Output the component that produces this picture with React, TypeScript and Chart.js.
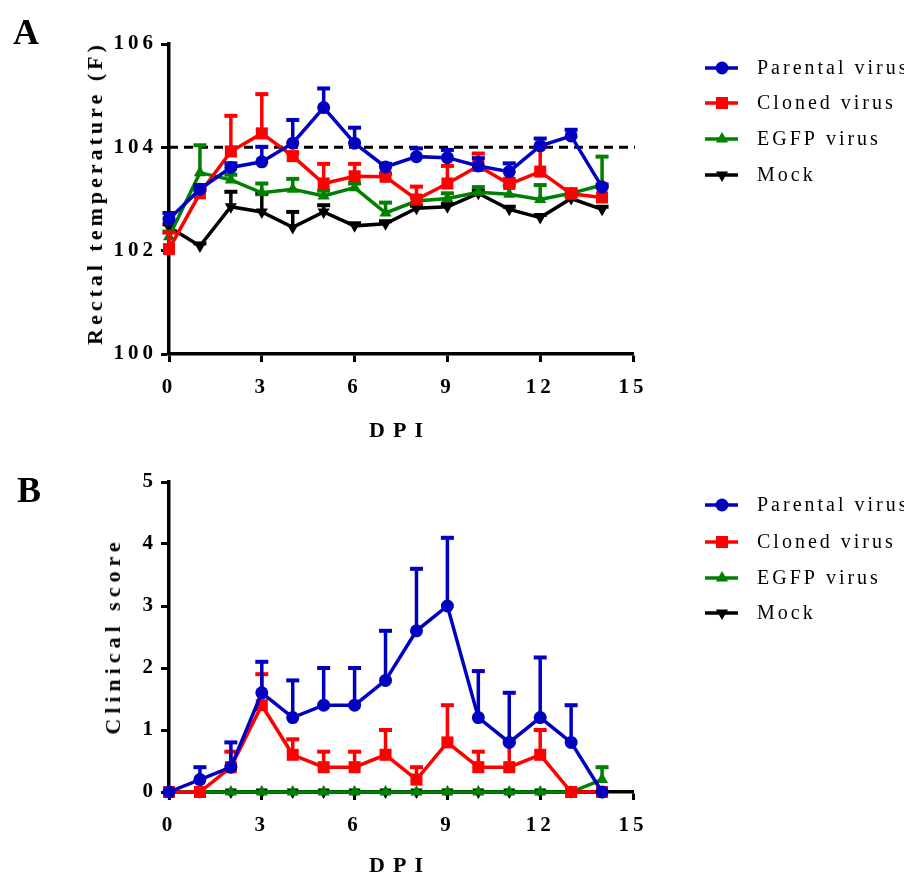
import React, { useEffect, useRef } from "react";
import { Chart, registerables } from "chart.js";

Chart.register(...registerables);

// ---------- data ----------
const days = [0, 1, 2, 3, 4, 5, 6, 7, 8, 9, 10, 11, 12, 13, 14];
const seriesNames = ["Parental virus", "Cloned virus", "EGFP virus", "Mock"];
const seriesColors = ["#0000c0", "#ff0000", "#008000", "#000000"];

const tempParental = [102.61, 103.19, 103.61, 103.72, 104.08, 104.77, 104.08, 103.62, 103.82, 103.8, 103.64, 103.53, 104.03, 104.22, 103.23];
const tempParentalErr = [0.12, 0.08, 0.08, 0.29, 0.45, 0.37, 0.3, 0.06, 0.16, 0.15, 0.15, 0.16, 0.14, 0.12, 0.05];
const tempCloned = [102.03, 103.11, 103.92, 104.27, 103.83, 103.3, 103.44, 103.43, 102.99, 103.3, 103.64, 103.29, 103.53, 103.1, 103.03];
const tempClonedErr = [0.32, 0.06, 0.69, 0.76, 0.06, 0.38, 0.24, 0.06, 0.25, 0.34, 0.24, 0.1, 0.5, 0.05, 0.2];
const tempEgfp = [102.27, 103.51, 103.37, 103.12, 103.19, 103.06, 103.22, 102.73, 102.96, 103.01, 103.13, 103.09, 102.99, 103.11, 103.27];
const tempEgfpErr = [0.1, 0.53, 0.1, 0.18, 0.2, 0.1, 0.08, 0.2, 0.08, 0.1, 0.1, 0.17, 0.28, 0.08, 0.55];
const tempMock = [102.46, 102.09, 102.85, 102.75, 102.45, 102.75, 102.48, 102.52, 102.82, 102.85, 103.11, 102.8, 102.64, 103.01, 102.8];
const tempMockErr = [0.05, 0.05, 0.29, 0.35, 0.3, 0.13, 0.05, 0.05, 0.05, 0.05, 0.05, 0.05, 0.05, 0.05, 0.05];
const tempThreshold = 104;

const scoreParental = [0, 0.2, 0.4, 1.6, 1.2, 1.4, 1.4, 1.8, 2.6, 3.0, 1.2, 0.8, 1.2, 0.8, 0];
const scoreParentalErr = [0, 0.2, 0.4, 0.5, 0.6, 0.6, 0.6, 0.8, 1.0, 1.1, 0.75, 0.8, 0.97, 0.6, 0];
const scoreCloned = [0, 0, 0.4, 1.4, 0.6, 0.4, 0.4, 0.6, 0.2, 0.8, 0.4, 0.4, 0.6, 0, 0];
const scoreClonedErr = [0, 0, 0.25, 0.5, 0.25, 0.25, 0.25, 0.4, 0.2, 0.6, 0.25, 0.4, 0.4, 0, 0];
const scoreEgfp = [0, 0, 0, 0, 0, 0, 0, 0, 0, 0, 0, 0, 0, 0, 0.2];
const scoreEgfpErr = [0, 0, 0, 0, 0, 0, 0, 0, 0, 0, 0, 0, 0, 0, 0.2];
const scoreMock = [0, 0, 0, 0, 0, 0, 0, 0, 0, 0, 0, 0, 0, 0, 0];
const scoreMockErr = [0, 0, 0, 0, 0, 0, 0, 0, 0, 0, 0, 0, 0, 0, 0];

const xTicksStep = 3;

// ---------- styling ----------
const SERIF = '"Liberation Serif", "Times New Roman", serif';
const W = 903;
const H_A = 440;
const H_B = 426;
const markerStyles = ["circle", "rect", "triangle", "triangle"];
const markerRadii = [6.5, 8.5, 7, 7];
const markerRot = [0, 0, 0, 180];

function drawMarker(ctx: CanvasRenderingContext2D, i: number, x: number, y: number) {
  const r = markerRadii[i];
  ctx.fillStyle = seriesColors[i];
  ctx.beginPath();
  if (markerStyles[i] === "circle") {
    ctx.arc(x, y, r, 0, Math.PI * 2);
  } else if (markerStyles[i] === "rect") {
    const s = r * Math.SQRT1_2;
    ctx.rect(x - s, y - s, 2 * s, 2 * s);
  } else {
    let rad = (markerRot[i] * Math.PI) / 180;
    ctx.moveTo(x + Math.sin(rad) * r, y - Math.cos(rad) * r);
    rad += (2 * Math.PI) / 3;
    ctx.lineTo(x + Math.sin(rad) * r, y - Math.cos(rad) * r);
    rad += (2 * Math.PI) / 3;
    ctx.lineTo(x + Math.sin(rad) * r, y - Math.cos(rad) * r);
    ctx.closePath();
  }
  ctx.fill();
}

const letterSpacingPlugin = {
  id: "letterSpacing",
  beforeDraw(chart: any) {
    chart.ctx.letterSpacing = "4px";
  },
};

const errorBarPlugin = {
  id: "errorBars",
  afterDatasetDraw(chart: any, args: any) {
    const ds = chart.data.datasets[args.index];
    const errs: number[] = ds.errs || [];
    const yScale = chart.scales.y;
    const ctx = chart.ctx;
    ctx.save();
    ctx.strokeStyle = ds.borderColor;
    args.meta.data.forEach((pt: any, j: number) => {
      const e = errs[j];
      if (!e) return;
      const v = ds.data[j].y;
      const yTop = yScale.getPixelForValue(v + e);
      ctx.lineWidth = 3.5;
      ctx.beginPath();
      ctx.moveTo(pt.x, pt.y);
      ctx.lineTo(pt.x, yTop);
      ctx.stroke();
      ctx.lineWidth = 4;
      ctx.beginPath();
      ctx.moveTo(pt.x - 6.5, yTop);
      ctx.lineTo(pt.x + 6.5, yTop);
      ctx.stroke();
    });
    ctx.restore();
  },
};

function makeLegendPlugin(rowsY: number[]) {
  return {
    id: "customLegend",
    afterDraw(chart: any) {
      const ctx = chart.ctx as any;
      ctx.save();
      seriesNames.forEach((name, i) => {
        const y = rowsY[i];
        ctx.strokeStyle = seriesColors[i];
        ctx.lineWidth = 3.5;
        ctx.beginPath();
        ctx.moveTo(697, y);
        ctx.lineTo(730, y);
        ctx.stroke();
        drawMarker(ctx, i, 714, y);
        ctx.letterSpacing = "3px";
        ctx.font = `20px ${SERIF}`;
        ctx.fillStyle = "#000";
        ctx.textAlign = "left";
        ctx.textBaseline = "middle";
        ctx.fillText(name, 749, y + 1);
      });
      ctx.restore();
    },
  };
}

const thresholdPlugin = {
  id: "threshold",
  beforeDatasetsDraw(chart: any) {
    const ctx = chart.ctx;
    const y = chart.scales.y.getPixelForValue(tempThreshold);
    const { left, right } = chart.chartArea;
    ctx.save();
    ctx.strokeStyle = "#000";
    ctx.lineWidth = 3;
    ctx.setLineDash([9, 6]);
    ctx.beginPath();
    ctx.moveTo(left, y);
    ctx.lineTo(right + 2, y);
    ctx.stroke();
    ctx.restore();
  },
};

function buildConfig(
  values: number[][],
  errs: number[][],
  yMin: number,
  yMax: number,
  yStep: number,
  padTop: number,
  padBottom: number,
  extraPlugins: any[]
): any {
  const tickFont = { family: SERIF, size: 21, weight: "bold" };
  return {
    type: "line",
    data: {
      datasets: values.map((vals, i) => ({
        label: seriesNames[i],
        data: days.map((d, j) => ({ x: d, y: vals[j] })),
        errs: errs[i],
        borderColor: seriesColors[i],
        backgroundColor: seriesColors[i],
        borderWidth: 3.5,
        pointStyle: markerStyles[i],
        pointRadius: markerRadii[i],
        pointRotation: markerRot[i],
        pointBorderWidth: 0,
        pointBackgroundColor: seriesColors[i],
        tension: 0,
        clip: false,
      })),
    },
    options: {
      animation: false,
      responsive: false,
      devicePixelRatio: 1,
      layout: { padding: { left: 0, top: padTop, right: W - 625, bottom: padBottom } },
      plugins: { legend: { display: false }, tooltip: { enabled: false } },
      scales: {
        x: {
          type: "linear",
          min: 0,
          max: 15,
          afterFit: (s: any) => {
            s.height = 50;
          },
          ticks: { stepSize: xTicksStep, padding: 13, color: "#000", font: tickFont, maxRotation: 0, autoSkip: false },
          grid: { drawOnChartArea: false, drawTicks: true, tickLength: 8, tickWidth: 3, tickColor: "#000" },
          border: { display: true, color: "#000", width: 3.5 },
        },
        y: {
          type: "linear",
          min: yMin,
          max: yMax,
          afterFit: (s: any) => {
            s.width = 161;
          },
          ticks: { stepSize: yStep, padding: 4, color: "#000", font: tickFont },
          grid: { drawOnChartArea: false, drawTicks: true, tickLength: 8, tickWidth: 3, tickColor: "#000" },
          border: { display: true, color: "#000", width: 3.5 },
        },
      },
    },
    plugins: [letterSpacingPlugin, ...extraPlugins, errorBarPlugin],
  };
}

const textBase: React.CSSProperties = {
  position: "absolute",
  fontFamily: SERIF,
  fontWeight: "bold",
  color: "#000",
  whiteSpace: "nowrap",
  lineHeight: 1,
};

export default function App() {
  const refA = useRef<HTMLCanvasElement>(null);
  const refB = useRef<HTMLCanvasElement>(null);

  useEffect(() => {
    document.documentElement.style.overflow = "hidden";
    const chartA = new Chart(
      refA.current as HTMLCanvasElement,
      buildConfig(
        [tempParental, tempCloned, tempEgfp, tempMock],
        [tempParentalErr, tempClonedErr, tempEgfpErr, tempMockErr],
        100,
        106,
        2,
        36,
        44,
        [thresholdPlugin, makeLegendPlugin([60, 95, 131, 167])]
      )
    );
    const chartB = new Chart(
      refB.current as HTMLCanvasElement,
      buildConfig(
        [scoreParental, scoreCloned, scoreEgfp, scoreMock],
        [scoreParentalErr, scoreClonedErr, scoreEgfpErr, scoreMockErr],
        0,
        5,
        1,
        34,
        H_B - 344 - 50,
        [makeLegendPlugin([57, 94, 130, 165])]
      )
    );
    return () => {
      chartA.destroy();
      chartB.destroy();
    };
  }, []);

  return (
    <div style={{ position: "relative", width: W, height: 440 + H_B }}>
      <canvas ref={refA} width={W} height={H_A} style={{ position: "absolute", left: 0, top: 0, width: W, height: H_A }} />
      <canvas ref={refB} width={W} height={H_B} style={{ position: "absolute", left: 0, top: 440, width: W, height: H_B }} />
      <div style={{ ...textBase, left: 5, top: 6, fontSize: 36 }}>A</div>
      <div style={{ ...textBase, left: 9, top: 464, fontSize: 36 }}>B</div>
      <div
        style={{
          ...textBase,
          left: 87,
          top: 185,
          fontSize: 22,
          letterSpacing: "4px",
          transform: "translate(-50%, -50%) rotate(-90deg)",
        }}
      >
        Rectal temperature (F)
      </div>
      <div
        style={{
          ...textBase,
          left: 105,
          top: 628,
          fontSize: 22,
          letterSpacing: "5px",
          transform: "translate(-50%, -50%) rotate(-90deg)",
        }}
      >
        Clinical score
      </div>
      <div style={{ ...textBase, left: 392, top: 422, fontSize: 22, letterSpacing: "8px", transform: "translate(-50%, -50%)" }}>
        DPI
      </div>
      <div style={{ ...textBase, left: 392, top: 857, fontSize: 22, letterSpacing: "8px", transform: "translate(-50%, -50%)" }}>
        DPI
      </div>
    </div>
  );
}
